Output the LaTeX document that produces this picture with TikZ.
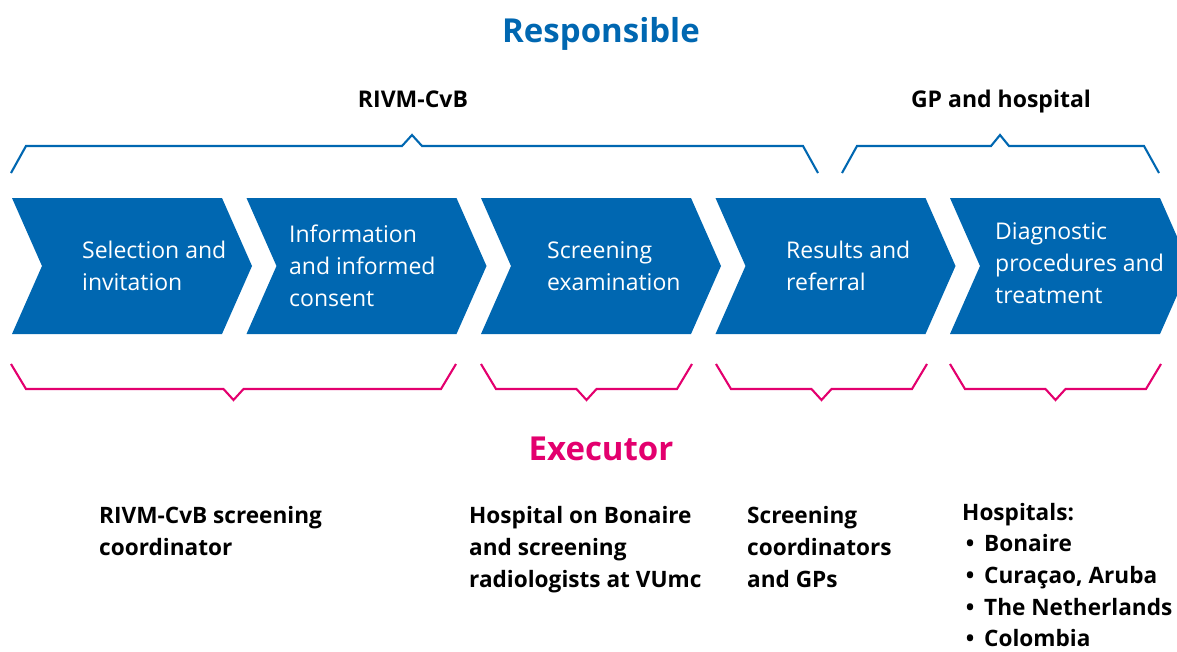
\documentclass[tikz,border=0pt]{standalone}
\usepackage{fontspec}
\setmainfont{Open Sans}

\definecolor{rivmblue}{RGB}{0,103,177}
\definecolor{rivmpink}{RGB}{227,0,110}

\tikzset{
	chevron/.style={fill=rivmblue, draw=none},
	phase/.style={anchor=west, align=left, text=white, inner sep=0pt, font=\fontsize{23}{32}\selectfont},
	who/.style={anchor=west, align=left, inner sep=0pt, font=\bfseries\fontsize{22.6}{32}\selectfont},
	party/.style={anchor=base, inner sep=0pt, font=\bfseries\fontsize{23}{28}\selectfont},
	heading/.style={inner sep=0pt, font=\bfseries\fontsize{33}{40}\selectfont},
	resp/.style={draw=rivmblue, line width=2.1pt},
	exec/.style={draw=rivmpink, line width=2.1pt},
}

\begin{document}
\begin{tikzpicture}[x=1pt, y=-1pt]
	\useasboundingbox (0,0) rectangle (1177,651);

	\node[heading, text=rivmblue] (responsible) at (601,34) {Responsible};
	\node[party] (rivm) at (413,107) {RIVM-CvB};
	\node[party] (gph) at (1001,107) {GP and hospital};

	% braces of the responsible parties
	\draw[resp] (11,173) -- (26,146) -- (402,146) -- (412,135) -- (422,146) -- (803,146) -- (818,173);
	\draw[resp] (842,173) -- (857,146) -- (991,146) -- (1000,135) -- (1009,146) -- (1144,146) -- (1159,173);

	% the five steps
	\foreach \i in {0,...,4}
		\fill[chevron] ({12+234.5*\i},198) -- ++(210,0) -- ++(30,68) -- ++(-30,68) -- ++(-210,0) -- ++(30,-68) -- cycle;

	\node[phase] (sel) at (82,266) {Selection and\\invitation};
	\node[phase] (info) at (289,266) {Information\\and informed\\consent};
	\node[phase] (scr) at (547,266) {Screening\\examination};
	\node[phase] (res) at (786,266) {Results and\\referral};
	\node[phase] (diag) at (995,263) {Diagnostic\\procedures and\\treatment};

	% braces of the executors
	\foreach \a/\b in {11/456, 481/692, 716/927, 950/1161} {
		\pgfmathsetmacro\bmid{(\a+\b)/2}
		\draw[exec] (\a,364) -- (\a+15,389) -- (\bmid-10,389) -- (\bmid,400) -- (\bmid+10,389) -- (\b-15,389) -- (\b,364);
	}

	\node[heading, text=rivmpink] (executor) at (601,449) {Executor};

	\node[who] (coord) at (99,531) {RIVM-CvB screening\\coordinator};
	\node[who] (hosp) at (469,550) {Hospital on Bonaire\\and screening\\radiologists at VUmc};
	\node[who] (gps) at (747,547) {Screening\\coordinators\\and GPs};
	\node[who, font=\bfseries\fontsize{22.6}{31.6}\selectfont] (hlist) at (962,575) {Hospitals:\\
		\makebox[22pt][l]{\,\textbullet}Bonaire\\
		\makebox[22pt][l]{\,\textbullet}Curaçao, Aruba\\
		\makebox[22pt][l]{\,\textbullet}The Netherlands\\
		\makebox[22pt][l]{\,\textbullet}Colombia};
\end{tikzpicture}
\end{document}
